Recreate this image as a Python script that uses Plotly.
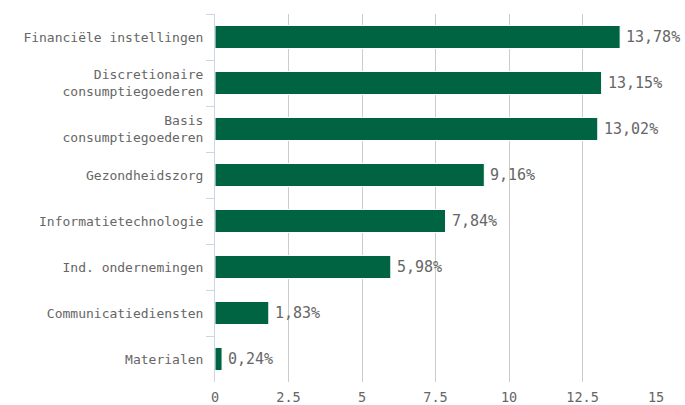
import plotly.graph_objects as go

categories = ["Financiële instellingen", "Discretionaire<br>consumptiegoederen", "Basis<br>consumptiegoederen",
              "Gezondheidszorg", "Informatietechnologie", "Ind. ondernemingen",
              "Communicatiediensten", "Materialen"]
values = [13.78, 13.15, 13.02, 9.16, 7.84, 5.98, 1.83, 0.24]
labels = [f"{v:.2f}%".replace(".", ",") for v in values]
x_ticks = [0, 2.5, 5, 7.5, 10, 12.5, 15]
x_tick_text = ["0", "2.5", "5", "7.5", "10", "12.5", "15"]

FONT = "DejaVu Sans Mono"

fig = go.Figure(go.Bar(
    y=categories, x=values, orientation="h",
    marker=dict(color="#006341", line=dict(color="#ffffff", width=1)),
    width=0.5, hoverinfo="x+y",
))

for cat, val, lab in zip(categories, values, labels):
    fig.add_annotation(x=val, y=cat, text=lab, showarrow=False, xanchor="left",
                       xshift=4, yshift=0,
                       font=dict(family=FONT, size=15, color="#666666"))

fig.update_layout(
    width=685, height=405,
    margin=dict(l=215, r=29, t=14, b=23),
    paper_bgcolor="white", plot_bgcolor="white",
    font=dict(family=FONT, size=13, color="#666666"),
    showlegend=False,
)
fig.update_xaxes(range=[0, 15], tickvals=x_ticks, ticktext=x_tick_text,
                 showgrid=True, gridcolor="#cccccc", gridwidth=1, zeroline=False,
                 showline=False, ticks="", automargin=False, ticklabelstandoff=5,
                 tickfont=dict(family=FONT, size=13.5, color="#666666"))
fig.update_yaxes(autorange="reversed", showline=True, linecolor="#ccd6eb", linewidth=1,
                 ticks="outside", tickson="boundaries", ticklen=8, tickcolor="#ccd6eb",
                 showgrid=False, automargin=False, ticklabelstandoff=8,
                 tickfont=dict(family=FONT, size=13, color="#666666"))

fig.write_html("out.html", config={"displayModeBar": False},
               post_script="document.body.style.margin='0';document.body.style.overflow='hidden';")
